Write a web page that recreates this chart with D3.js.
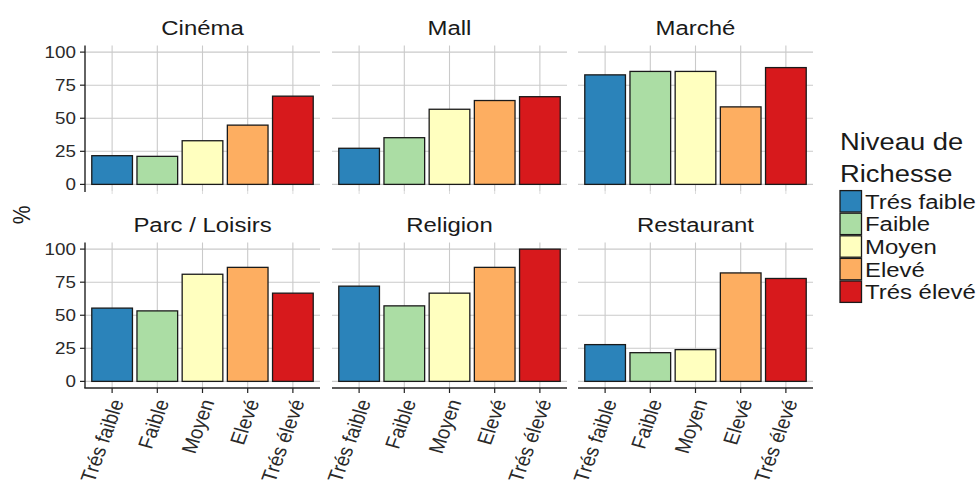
<!DOCTYPE html>
<html>
<head>
<meta charset="utf-8">
<script src="https://cdn.jsdelivr.net/npm/d3@7"></script>
<style>
  html, body { margin: 0; padding: 0; background: #fff; }
  svg { display: block; font-family: "Liberation Sans", Arial, Helvetica, sans-serif; }
</style>
</head>
<body>
<svg id="chart" width="979" height="484"></svg>
<script>
// ---- data ----
const categories = ["Trés faible", "Faible", "Moyen", "Elevé", "Trés élevé"];
const facetNames = ["Cinéma", "Mall", "Marché", "Parc / Loisirs", "Religion", "Restaurant"];
const cinema     = [21.7, 21.2, 33.0, 44.8, 66.7];
const mall       = [27.3, 35.3, 56.8, 63.4, 66.3];
const marche     = [82.8, 85.4, 85.4, 58.6, 88.3];
const parc       = [55.4, 53.3, 81.0, 86.2, 66.7];
const religion   = [72.0, 57.1, 66.7, 86.2, 100.0];
const restaurant = [27.8, 21.7, 24.0, 82.0, 77.8];
const yTicks = [0, 25, 50, 75, 100];
const colors = ["#2b83ba", "#abdda4", "#ffffbf", "#fdae61", "#d7191c"];
const legendTitle = ["Niveau de", "Richesse"];
const yLabel = "%";

const facetValues = [cinema, mall, marche, parc, religion, restaurant];

// ---- layout ----
const svg = d3.select("#chart");
const SX = 1.14; // horizontal stretch of the reference text
const colLeft = [85, 332, 578];
const panelW = 235;
const rowTop = [45.5, 242.5];
const panelH = 145.5;
const gridColor = "#cacaca";

function hText(parent, x, y, str, size, anchor, fill) {
  return parent.append("text")
    .attr("transform", `translate(${x},${y}) scale(${SX},1)`)
    .attr("text-anchor", anchor)
    .attr("font-size", size)
    .attr("fill", fill || "#1a1a1a")
    .text(str);
}

const color = d3.scaleOrdinal().domain(categories).range(colors);

facetNames.forEach((name, i) => {
  const col = i % 3, row = Math.floor(i / 3);
  const x0 = colLeft[col], y0 = rowTop[row];
  // ggplot-like discrete scale: 0.6 step of expansion at each side
  const x = d3.scalePoint().domain(categories)
    .range([x0, x0 + panelW]).padding(0.6);
  const step = x.step();
  const bw = step * 0.9;
  const y = d3.scaleLinear().domain([-5, 105]).range([y0 + panelH, y0]);
  const g = svg.append("g");

  // grid
  g.selectAll(".hg").data(yTicks).enter().append("line")
    .attr("x1", x0).attr("x2", x0 + panelW)
    .attr("y1", d => y(d)).attr("y2", d => y(d))
    .attr("stroke", gridColor).attr("stroke-width", 1.1);
  g.selectAll(".vg").data(categories).enter().append("line")
    .attr("x1", d => x(d)).attr("x2", d => x(d))
    .attr("y1", y0).attr("y2", y0 + panelH)
    .attr("stroke", gridColor).attr("stroke-width", 1.1);

  // bars
  g.selectAll(".bar").data(categories).enter().append("rect")
    .attr("x", d => x(d) - bw / 2)
    .attr("width", bw)
    .attr("y", (d, j) => y(facetValues[i][j]))
    .attr("height", (d, j) => y(0) - y(facetValues[i][j]))
    .attr("fill", d => color(d))
    .attr("stroke", "#1a1a1a").attr("stroke-width", 1.3);

  // strip title
  hText(g, x0 + panelW / 2, y0 - 10.5, name, 21, "middle", "#1a1a1a");

  // y axis (left column)
  if (col === 0) {
    g.append("line").attr("x1", x0).attr("x2", x0)
      .attr("y1", y0).attr("y2", y0 + panelH + (row === 1 ? 0 : 1))
      .attr("stroke", "#222").attr("stroke-width", 1.4);
    yTicks.forEach(t => {
      g.append("line").attr("x1", x0 - 5).attr("x2", x0)
        .attr("y1", y(t)).attr("y2", y(t))
        .attr("stroke", "#222").attr("stroke-width", 1.2);
      hText(g, x0 - 9, y(t) + 6, String(t), 16.5, "end", "#2a2a2a");
    });
  }

  // x axis
  if (row === 1) {
    g.append("line").attr("x1", x0 - (col === 0 ? 0.7 : 0)).attr("x2", x0 + panelW)
      .attr("y1", y0 + panelH).attr("y2", y0 + panelH)
      .attr("stroke", "#222").attr("stroke-width", 1.4);
    categories.forEach(c => {
      g.append("line").attr("x1", x(c)).attr("x2", x(c))
        .attr("y1", y0 + panelH).attr("y2", y0 + panelH + 5)
        .attr("stroke", "#222").attr("stroke-width", 1.2);
      g.append("text")
        .attr("transform", `translate(${x(c) + 5},${y0 + panelH + 12}) scale(${SX},1) rotate(-72)`)
        .attr("text-anchor", "end")
        .attr("dy", "0.35em")
        .attr("font-size", 18.5)
        .attr("fill", "#2a2a2a")
        .text(c);
    });
  } else {
    categories.forEach(c => {
      g.append("line").attr("x1", x(c)).attr("x2", x(c))
        .attr("y1", y0 + panelH).attr("y2", y0 + panelH + 3)
        .attr("stroke", "#dddddd").attr("stroke-width", 1);
    });
  }
});

// y label
svg.append("text")
  .attr("transform", "translate(30,215) rotate(-90) scale(1,1.14)")
  .attr("text-anchor", "middle")
  .attr("font-size", 21)
  .attr("fill", "#1a1a1a")
  .text(yLabel);

// legend
const lg = svg.append("g");
legendTitle.forEach((t, i) => hText(lg, 840, 150 + i * 31.7, t, 24, "start", "#1a1a1a"));
const keyH = 22.6;
categories.forEach((c, i) => {
  const ky = 190 + i * keyH;
  lg.append("rect").attr("x", 840).attr("y", ky + 0.6)
    .attr("width", 21.5).attr("height", keyH - 1.2)
    .attr("fill", color(c)).attr("stroke", "#1a1a1a").attr("stroke-width", 1.3);
  hText(lg, 865, ky + keyH / 2 + 7.5, c, 21, "start", "#1a1a1a");
});
</script>
</body>
</html>
